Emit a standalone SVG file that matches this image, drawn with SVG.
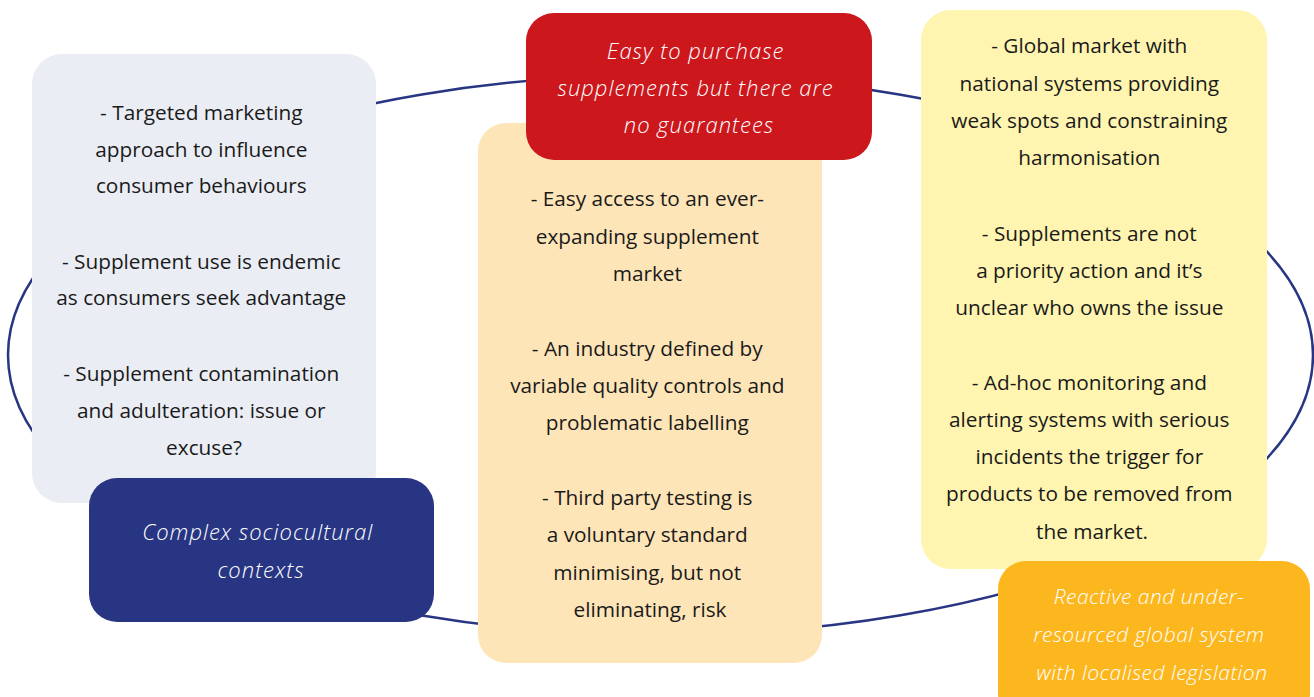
<svg xmlns="http://www.w3.org/2000/svg" width="1314" height="697" viewBox="0 0 1314 697">
  <style>
    .body { font-family: "Open Sans", Lato, "Liberation Sans", sans-serif; font-size: 20.8px; fill: #1a1a1a; text-anchor: middle; }
    .head { font-family: "Open Sans", Lato, "Liberation Sans", sans-serif; font-size: 22px; letter-spacing: 1px; font-style: italic; font-weight: 300; fill: #ffffff; text-anchor: middle; }
    .head.small { font-size: 21px; letter-spacing: 0.5px; }
    .ring { fill: none; stroke: #283583; stroke-width: 2.5; }
  </style>
  <rect width="1314" height="697" fill="#ffffff"/>

  <!-- connecting loop behind the boxes -->
  <g id="connectors">
    <ellipse class="ring" cx="660.5" cy="355" rx="652.5" ry="280"/>
  </g>

  <g id="consumer-factors">
    <rect x="32" y="54" width="344" height="449" rx="30" fill="#eaedf4"/>
    <text class="body">
      <tspan x="204" y="120">- Targeted marketing</tspan>
      <tspan x="204" y="157">approach to influence</tspan>
      <tspan x="204" y="193">consumer behaviours</tspan>
      <tspan x="204" y="269">- Supplement use is endemic</tspan>
      <tspan x="204" y="305">as consumers seek advantage</tspan>
      <tspan x="204" y="381">- Supplement contamination</tspan>
      <tspan x="204" y="418">and adulteration: issue or</tspan>
      <tspan x="204" y="455">excuse?</tspan>
    </text>
  </g>

  <g id="sociocultural">
    <rect x="89" y="478" width="345" height="144" rx="28" fill="#283583"/>
    <text class="head">
      <tspan x="261" y="540">Complex sociocultural</tspan>
      <tspan x="261" y="578">contexts</tspan>
    </text>
  </g>

  <g id="industry-factors">
    <rect x="478" y="123" width="344" height="540" rx="28" fill="#fee5b8"/>
    <text class="body">
      <tspan x="650" y="206">- Easy access to an ever-</tspan>
      <tspan x="650" y="244">expanding supplement</tspan>
      <tspan x="650" y="281">market</tspan>
      <tspan x="650" y="356">- An industry defined by</tspan>
      <tspan x="650" y="393">variable quality controls and</tspan>
      <tspan x="650" y="430">problematic labelling</tspan>
      <tspan x="650" y="505">- Third party testing is</tspan>
      <tspan x="650" y="542">a voluntary standard</tspan>
      <tspan x="650" y="580">minimising, but not</tspan>
      <tspan x="650" y="617">eliminating, risk</tspan>
    </text>
  </g>

  <g id="easy-purchase">
    <rect x="526" y="13" width="346" height="147" rx="28" fill="#cc171d"/>
    <text class="head">
      <tspan x="699" y="59">Easy to purchase</tspan>
      <tspan x="699" y="96">supplements but there are</tspan>
      <tspan x="699" y="133">no guarantees</tspan>
    </text>
  </g>

  <g id="regulatory-factors">
    <rect x="921" y="10" width="346" height="559" rx="30" fill="#fff5b0"/>
    <text class="body">
      <tspan x="1092" y="53">- Global market with</tspan>
      <tspan x="1092" y="91">national systems providing</tspan>
      <tspan x="1092" y="128">weak spots and constraining</tspan>
      <tspan x="1092" y="165">harmonisation</tspan>
      <tspan x="1092" y="241">- Supplements are not</tspan>
      <tspan x="1092" y="278">a priority action and it’s</tspan>
      <tspan x="1092" y="315">unclear who owns the issue</tspan>
      <tspan x="1092" y="390">- Ad-hoc monitoring and</tspan>
      <tspan x="1092" y="427">alerting systems with serious</tspan>
      <tspan x="1092" y="464">incidents the trigger for</tspan>
      <tspan x="1092" y="501">products to be removed from</tspan>
      <tspan x="1092" y="539">the market.</tspan>
    </text>
  </g>

  <g id="global-system">
    <rect x="998" y="561" width="312" height="160" rx="28" fill="#fdb71e"/>
    <text class="head small">
      <tspan x="1152" y="604">Reactive and under-</tspan>
      <tspan x="1152" y="642">resourced global system</tspan>
      <tspan x="1152" y="680">with localised legislation</tspan>
    </text>
  </g>
</svg>
